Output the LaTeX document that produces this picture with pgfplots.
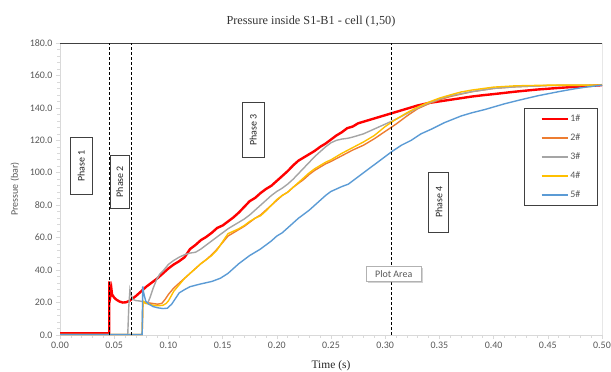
\documentclass[border=0pt]{standalone}
\usepackage{pgfplots}
\pgfplotsset{compat=1.18}
\usepackage{fontspec}
\setmainfont{Liberation Serif}
\newfontfamily\carlito{Carlito}
\usetikzlibrary{shadows}
\definecolor{sred}{RGB}{255,0,0}
\definecolor{sorange}{RGB}{237,125,49}
\definecolor{sgray}{RGB}{165,165,165}
\definecolor{syellow}{RGB}{255,192,0}
\definecolor{sblue}{RGB}{91,155,213}
\definecolor{ticktext}{RGB}{89,89,89}
\definecolor{axline}{RGB}{217,217,217}
\definecolor{boxline}{RGB}{64,64,64}
\begin{document}
\begin{tikzpicture}
\begin{axis}[
  scale only axis, width=542bp, height=292bp,
  xmin=0, xmax=0.5, ymin=0, ymax=180,
  xtick={0,0.05,0.1,0.15,0.2,0.25,0.3,0.35,0.4,0.45,0.5},
  ytick={0,20,40,60,80,100,120,140,160,180},
  minor x tick num=4, minor y tick num=4,
  tick align=outside, major tick length=4bp, minor tick length=2.5bp,
  tick style={axline, line width=0.6bp},
  axis line style={axline, line width=0.8bp},
  axis x line*=bottom, axis y line*=left,
  /pgf/number format/assume math mode=true,
  tick label style={font=\carlito\fontsize{10}{12}\selectfont, text=ticktext},
  xticklabel style={/pgf/number format/.cd, fixed, fixed zerofill, precision=2},
  yticklabel style={/pgf/number format/.cd, fixed, fixed zerofill, precision=1},
  scaled ticks=false,
  xlabel={Time (s)},
  xlabel style={at={(axis description cs:0.5,-0.106)}, anchor=center, font=\fontsize{11.5}{13}\selectfont, text=black!85},
  ylabel={Pressue (bar)},
  ylabel style={at={(axis description cs:-0.083,0.5)}, anchor=center, rotate=0, font=\carlito\fontsize{10}{12}\selectfont, text=ticktext},
  title={Pressure inside S1-B1 - cell (1,50)},
  every axis title shift=0pt,
  title style={at={(axis description cs:0.463,1.075)}, anchor=center, font=\fontsize{12.3}{14}\selectfont, text=black!80},
  legend style={at={(0.993,0.777)}, anchor=north east, draw=boxline, line width=0.8bp,
    inner xsep=16bp, inner ysep=1bp, font=\carlito\fontsize{10}{12}\selectfont, text=ticktext,
    nodes={inner sep=1.5bp, minimum height=19bp}},
  legend cell align=left,
  legend image code/.code={\draw[#1] (0bp,0bp) -- (26bp,0bp);},
]
\coordinate (bl) at (rel axis cs:0,0);
\coordinate (tr) at (rel axis cs:1,1);
\draw[boxline, line width=0.9bp] (rel axis cs:0,1) -- (rel axis cs:1,1) -- (rel axis cs:1,0);
\addplot[sred, line width=2.4bp] coordinates {
(0,1.0) (0.02,1.1) (0.0454,1.0) (0.0455,33) (0.0460,27) (0.0465,31) (0.0470,26) (0.0475,28) (0.048,25) (0.050,23) (0.052,21.8) (0.055,20.6) (0.058,20) (0.061,20.2) (0.064,21) (0.067,22.5) (0.07,24) (0.075,27) (0.08,30) (0.085,32.5) (0.09,35) (0.095,38) (0.10,41) (0.105,43.5) (0.11,45.5) (0.115,48) (0.1175,50.5) (0.12,53) (0.125,55.5) (0.13,58.5) (0.135,60.5) (0.14,63) (0.145,66) (0.15,67.5) (0.155,70) (0.16,72.5) (0.165,75.5) (0.17,79) (0.175,82.5) (0.18,84.5) (0.185,87.5) (0.19,90) (0.195,92) (0.20,95) (0.205,98) (0.21,101) (0.215,104.5) (0.22,107.5) (0.225,109.5) (0.23,111.5) (0.235,113.5) (0.24,116) (0.245,118) (0.25,120.5) (0.255,123) (0.26,125) (0.265,127.5) (0.27,128.5) (0.275,130.5) (0.28,131.5) (0.29,133.5) (0.30,135.5) (0.31,137.5) (0.32,139.5) (0.33,141.5) (0.34,143) (0.35,144) (0.36,145) (0.37,146) (0.38,147) (0.39,147.8) (0.40,148.5) (0.42,150) (0.44,151.3) (0.46,152.3) (0.48,153.2) (0.50,154)
};
\addlegendentry{1\#}
\addplot[sorange, line width=1.4bp] coordinates {
(0,0.3) (0.0758,0.3) (0.0765,20.5) (0.08,20) (0.085,19.5) (0.09,19) (0.094,19.5) (0.097,22) (0.10,25) (0.105,29) (0.11,32) (0.115,35) (0.12,38) (0.125,41) (0.13,44) (0.135,46.5) (0.14,49.5) (0.145,53) (0.15,57) (0.155,61) (0.16,63) (0.165,65) (0.17,67) (0.175,69.5) (0.18,72) (0.185,74) (0.19,77) (0.195,80) (0.20,83) (0.205,86) (0.21,88) (0.215,91) (0.22,93.5) (0.225,96) (0.23,99) (0.235,101.5) (0.24,103.5) (0.245,105.5) (0.25,107) (0.26,110.5) (0.27,114) (0.28,117) (0.29,121) (0.30,125.5) (0.31,130) (0.32,135) (0.33,139.5) (0.34,142.5) (0.35,145) (0.36,147) (0.38,150) (0.40,152) (0.42,153) (0.45,153.8) (0.50,154)
};
\addlegendentry{2\#}
\addplot[sgray, line width=1.4bp] coordinates {
(0,0.3) (0.0625,0.3) (0.0635,18) (0.0645,28) (0.0655,25) (0.067,22) (0.07,21.2) (0.073,21) (0.076,20.6) (0.079,19.5) (0.081,19.8) (0.083,23) (0.086,29) (0.089,34) (0.092,37.5) (0.095,39.5) (0.10,43.5) (0.105,46) (0.11,48) (0.115,49.5) (0.12,50.5) (0.125,51) (0.13,53) (0.135,55.5) (0.14,58) (0.145,60.5) (0.15,63) (0.155,65.5) (0.16,67.5) (0.165,69.5) (0.17,71.5) (0.175,74) (0.18,77) (0.185,80) (0.19,83) (0.195,86) (0.20,88.5) (0.205,90.5) (0.21,93) (0.215,96) (0.22,99.5) (0.225,103) (0.23,106.5) (0.235,110) (0.24,113) (0.245,116) (0.25,118.5) (0.255,120) (0.26,120.8) (0.265,121.2) (0.27,122) (0.28,124) (0.29,127) (0.30,130) (0.31,133) (0.32,136.5) (0.33,140) (0.34,143) (0.35,145.5) (0.36,147.5) (0.38,150) (0.40,152) (0.42,153) (0.45,153.8) (0.50,154)
};
\addlegendentry{3\#}
\addplot[syellow, line width=1.4bp] coordinates {
(0,0.3) (0.0758,0.3) (0.0765,21) (0.079,19.5) (0.085,18.5) (0.09,18) (0.095,18.3) (0.098,19.5) (0.10,21) (0.105,27) (0.11,31) (0.115,35) (0.12,38) (0.125,41) (0.13,44) (0.135,46.5) (0.14,49) (0.145,52.5) (0.15,57.5) (0.155,62.5) (0.16,64) (0.165,65.5) (0.17,67.5) (0.175,70) (0.18,72) (0.185,73.5) (0.19,76.5) (0.195,80) (0.20,83.5) (0.205,86) (0.21,88) (0.215,91) (0.22,94) (0.225,97) (0.23,100) (0.235,102.5) (0.24,104.5) (0.245,106.5) (0.25,108) (0.26,112) (0.27,115.5) (0.28,119) (0.29,123) (0.30,128.5) (0.31,133) (0.32,137) (0.33,140.5) (0.34,143.5) (0.35,146) (0.36,148) (0.37,149.8) (0.38,151) (0.40,152.8) (0.42,153.6) (0.45,154) (0.50,154)
};
\addlegendentry{4\#}
\addplot[sblue, line width=1.4bp] coordinates {
(0,0.3) (0.0758,0.3) (0.0763,30) (0.0772,26) (0.079,21) (0.082,19) (0.086,17.5) (0.09,16.8) (0.095,16.3) (0.099,16.5) (0.103,19) (0.107,23) (0.11,26) (0.115,28) (0.12,29.8) (0.13,31.5) (0.14,33) (0.148,35) (0.155,38) (0.16,41) (0.165,44) (0.17,46.5) (0.175,49) (0.18,51) (0.185,53) (0.19,55.5) (0.195,58) (0.20,61) (0.205,63) (0.21,66) (0.215,69) (0.22,72) (0.225,74.5) (0.23,77) (0.235,80) (0.24,83) (0.245,86) (0.25,88.5) (0.255,90) (0.26,91.5) (0.266,93) (0.27,95) (0.282,101) (0.29,105) (0.30,110) (0.306,113) (0.315,117) (0.324,120) (0.333,124) (0.343,127) (0.355,131) (0.37,135) (0.38,137) (0.392,139) (0.41,142.5) (0.425,145) (0.441,147.5) (0.46,150) (0.475,151.8) (0.485,152.8) (0.50,154)
};
\addlegendentry{5\#}
\addplot[forget plot, black, line width=0.8bp, dash pattern=on 3bp off 2bp] coordinates {(0.0455,0) (0.0455,180)};
\addplot[forget plot, black, line width=0.8bp, dash pattern=on 3bp off 2bp] coordinates {(0.0655,0) (0.0655,180)};
\addplot[forget plot, black, line width=0.8bp, dash pattern=on 3bp off 2bp] coordinates {(0.306,0) (0.306,180)};
\tikzset{phase/.style={draw=boxline, fill=white, line width=0.8bp, rotate=90, inner sep=1bp, font=\carlito\fontsize{10}{12}\selectfont, text=black!85}}
\node[phase, minimum width=57bp, minimum height=22bp] at (axis cs:0.0196,104.3) {Phase 1};
\node[phase, minimum width=53bp, minimum height=19bp] at (axis cs:0.0551,94.5) {Phase 2};
\node[phase, minimum width=55bp, minimum height=22bp] at (axis cs:0.1782,126.4) {Phase 3};
\node[phase, minimum width=60bp, minimum height=20bp] at (axis cs:0.3495,82) {Phase 4};
\node[draw=black!30, fill=white, line width=0.6bp, minimum width=55bp, minimum height=15bp, inner sep=1bp,
  font=\carlito\fontsize{10}{12}\selectfont, text=ticktext,
  drop shadow={opacity=0.35, shadow xshift=1.5bp, shadow yshift=-1.5bp}] at (axis cs:0.3079,37.6) {Plot Area};
\end{axis}
\pgfresetboundingbox
\path ([shift={(-60bp,-37bp)}]bl) rectangle ([shift={(9bp,43bp)}]tr);
\end{tikzpicture}
\end{document}
